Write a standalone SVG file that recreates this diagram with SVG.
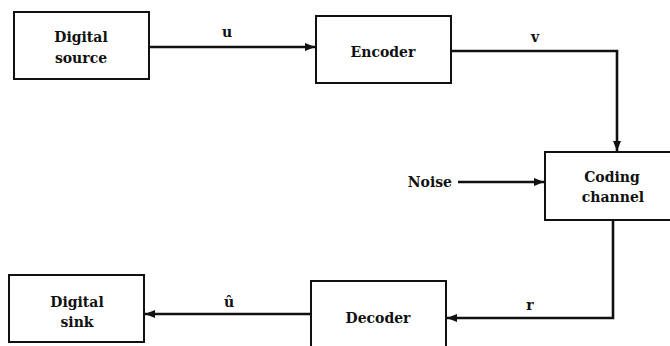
<svg xmlns="http://www.w3.org/2000/svg" width="670" height="346" viewBox="0 0 670 346">
<style>
.box{fill:#fff;stroke:#111;stroke-width:2}
.t{font-family:"DejaVu Serif","Liberation Serif",serif;font-weight:bold;font-size:14px;fill:#111;text-anchor:middle}
.c{fill:none;stroke:#111;stroke-width:2.6}
</style>
<defs>
<marker id="ah" viewBox="0 0 10 8" refX="10" refY="4" markerWidth="10" markerHeight="8" markerUnits="userSpaceOnUse" orient="auto">
<path d="M0,0 L10,4 L0,8 z" fill="#111"/>
</marker>
</defs>
<rect width="670" height="346" fill="#fff"/>
<g id="connectors">
<line class="c" x1="149" y1="47" x2="315" y2="47" marker-end="url(#ah)"/>
<polyline class="c" points="451,51 617,51 617,151" marker-end="url(#ah)"/>
<line class="c" x1="458" y1="182" x2="544" y2="182" marker-end="url(#ah)"/>
<polyline class="c" points="613,220 613,318 447,318" marker-end="url(#ah)"/>
<line class="c" x1="311" y1="314" x2="145" y2="314" marker-end="url(#ah)"/>
<text class="t" x="227" y="37">u</text>
<text class="t" x="535" y="42">v</text>
<text class="t" x="530" y="310">r</text>
<text class="t" x="229" y="307">û</text>
<text class="t" x="452" y="187" style="text-anchor:end">Noise</text>
</g>
<g id="source">
<rect class="box" x="14" y="12" width="135" height="67"/>
<text class="t" x="81" y="42">Digital</text>
<text class="t" x="81" y="63">source</text>
</g>
<g id="encoder">
<rect class="box" x="316" y="16" width="135" height="67"/>
<text class="t" x="383" y="57">Encoder</text>
</g>
<g id="channel">
<rect class="box" x="545" y="152" width="140" height="68"/>
<text class="t" x="612" y="182">Coding</text>
<text class="t" x="613" y="202">channel</text>
</g>
<g id="decoder">
<rect class="box" x="311" y="281" width="135" height="70"/>
<text class="t" x="378" y="323">Decoder</text>
</g>
<g id="sink">
<rect class="box" x="9" y="275" width="135" height="67"/>
<text class="t" x="77" y="307">Digital</text>
<text class="t" x="77" y="327">sink</text>
</g>
</svg>
